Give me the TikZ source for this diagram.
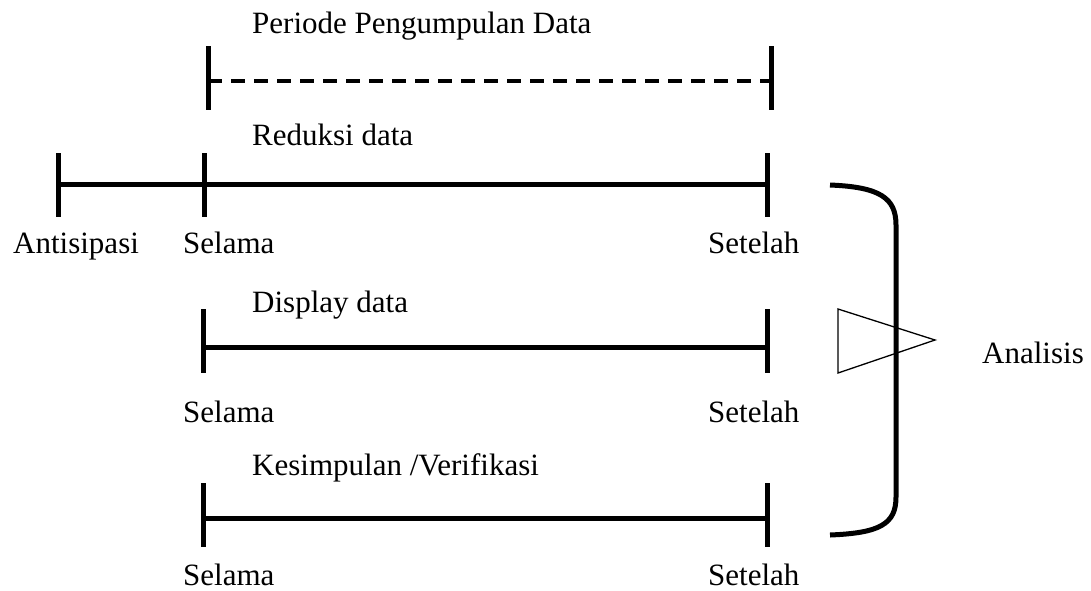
\documentclass[tikz,border=0pt]{standalone}
\usepackage{fontspec}
\setmainfont{Liberation Serif}
\usetikzlibrary{positioning}
\tikzset{
  timeline/.style={draw, line width=5pt},
  periode/.style={draw, line width=3.5pt, dash pattern=on 14pt off 9pt},
  tickmark/.style={draw, line width=5pt},
  txt/.style={anchor=base west, inner sep=0pt, font=\fontsize{31}{36}\selectfont},
  bracket/.style={draw, line width=5pt},
  pointer/.style={draw, line width=1.3pt, line join=miter},
}
% vertical bar through a point: #2 above, #3 below (pt)
\newcommand{\tickat}[3]{\draw[tickmark] ([yshift=#2]#1) -- ([yshift=-#3]#1);}

\begin{document}
\begin{tikzpicture}[x=1pt, y=-1pt]
    \useasboundingbox (0,0) rectangle (1091,590);
    % Place points
    \coordinate (perL) at (208,81);
    \coordinate (perR) at (771,81);
    \coordinate (redA) at (58,184);
    \coordinate (redL) at (204,184);
    \coordinate (redR) at (767,184);
    \coordinate (disL) at (203,347);
    \coordinate (disR) at (767,347);
    \coordinate (kesL) at (203,518);
    \coordinate (kesR) at (767,518);
    % Place texts
    \node [txt] (periode) at (252,33) {Periode Pengumpulan Data};
    \node [txt] (reduksi) at (252,145) {Reduksi data};
    \node [txt] (antisipasi) at (13,253) {Antisipasi};
    \node [txt] (selamaOne) at (183,253) {Selama};
    \node [txt] (setelahOne) at (708,253) {Setelah};
    \node [txt] (display) at (252,312) {Display data};
    \node [txt] (selamaTwo) at (183,422) {Selama};
    \node [txt] (setelahTwo) at (708,422) {Setelah};
    \node [txt] (kesimpulan) at (252,475) {Kesimpulan /Verifikasi};
    \node [txt] (selamaThree) at (183,585) {Selama};
    \node [txt] (setelahThree) at (708,585) {Setelah};
    \node [txt] (analisis) at (982,363) {Analisis};
    % Draw lines
    \path [periode] (perL) -- (perR);
    \path [timeline] (redA) -- (redR);
    \path [timeline] (disL) -- (disR);
    \path [timeline] (kesL) -- (kesR);
    % Draw ticks
    \tickat{perL}{35pt}{29pt}
    \tickat{perR}{35pt}{29pt}
    \tickat{redA}{31pt}{33pt}
    \tickat{redL}{31pt}{33pt}
    \tickat{redR}{31pt}{33pt}
    \tickat{disL}{38pt}{26pt}
    \tickat{disR}{38pt}{26pt}
    \tickat{kesL}{35pt}{29pt}
    \tickat{kesR}{35pt}{29pt}
    % Bracket and pointer
    \coordinate (brTop) at (830,185);
    \coordinate (brBot) at (830,535);
    \path [bracket] (brTop) .. controls (880,187) and (896,198) .. (896,225)
        -- (896,497) .. controls (896,524) and (880,533) .. (brBot);
    \path [pointer] (838,309) -- (935,340) -- (838,373) -- cycle;
\end{tikzpicture}
\end{document}
